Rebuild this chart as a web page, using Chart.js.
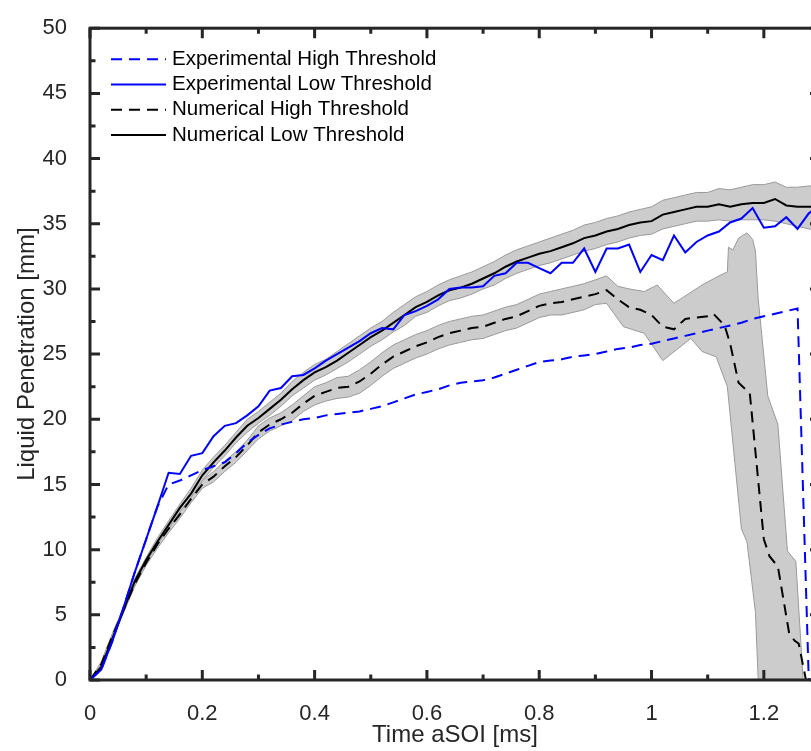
<!DOCTYPE html>
<html>
<head>
<meta charset="utf-8">
<script src="https://cdn.jsdelivr.net/npm/chart.js@4.4.1/dist/chart.umd.min.js"></script>
<style>
  html, body { margin: 0; padding: 0; background: #fff; overflow: hidden; }
  canvas { display: block; }
</style>
</head>
<body>
<canvas id="penetrationChart" width="840" height="751"></canvas>
<script>
// time grid (ms) shared by the experimental and numerical low threshold curves
const timeGrid = [0,0.02,0.04,0.06,0.08,0.10,0.12,0.14,0.16,0.18,0.20,0.22,0.24,0.26,0.28,0.30,0.32,0.34,0.36,0.38,
  0.40,0.42,0.44,0.46,0.48,0.50,0.52,0.54,0.56,0.58,0.60,0.62,0.64,0.66,0.68,0.70,0.72,0.74,0.76,0.78,
  0.80,0.82,0.84,0.86,0.88,0.90,0.92,0.94,0.96,0.98,1.00,1.02,1.04,1.06,1.08,1.10,1.12,1.14,1.16,1.18,
  1.20,1.22,1.24,1.26,1.28,1.30];

// experimental (mm)
const expHigh = [0,0.8,3.0,5.6,8.3,10.8,13.3,15.0,15.3,15.7,16.1,16.4,16.7,17.4,18.2,18.8,19.3,19.6,19.8,20.0,
  20.1,20.3,20.4,20.5,20.6,20.8,21.0,21.3,21.6,21.9,22.1,22.3,22.6,22.8,22.9,23.0,23.2,23.5,23.8,24.1,
  24.4,24.5,24.6,24.8,24.9,25.0,25.2,25.4,25.5,25.7,25.8,26.0,26.2,26.4,26.6,26.8,27.0,27.2,27.4,27.7,
  27.9,28.1,28.3,28.5,0];
const expLow = [0,0.8,3.0,5.6,8.3,10.8,13.3,15.9,15.8,17.2,17.4,18.7,19.5,19.7,20.3,21.0,22.2,22.4,23.3,23.4,
  23.9,24.5,25.0,25.5,26.0,26.6,27.0,26.9,28.0,28.3,28.7,29.2,30.0,30.1,30.1,30.2,31.0,31.2,32.0,32.0,
  31.6,31.2,32.0,32.0,33.1,31.3,33.1,33.1,33.4,31.3,32.6,32.2,34.1,32.8,33.6,34.1,34.4,35.1,35.4,36.2,
  34.7,34.8,35.5,34.6,35.8,36.4];

// numerical low threshold and its spread
const numLow = [0,1.0,3.2,5.4,7.6,9.2,10.6,11.9,13.2,14.3,15.7,16.7,17.6,18.6,19.5,20.1,20.8,21.5,22.3,23.0,
  23.6,24.0,24.5,25.1,25.7,26.3,26.8,27.4,28.0,28.6,29.0,29.5,29.9,30.1,30.4,30.8,31.2,31.7,32.1,32.4,
  32.7,32.9,33.2,33.5,33.9,34.1,34.4,34.6,34.9,35.1,35.2,35.7,35.9,36.1,36.3,36.3,36.5,36.3,36.5,36.6,
  36.6,36.9,36.4,36.3,36.3,36.3];
const numLowUp = [0,1.2,3.4,5.6,7.8,9.4,10.9,12.2,13.5,14.7,16.1,17.1,18.0,19.0,20.0,20.6,21.3,22.0,22.9,23.6,
  24.2,24.6,25.2,25.8,26.4,27.0,27.5,28.2,28.8,29.4,29.8,30.3,30.7,31.0,31.3,31.7,32.1,32.6,33.0,33.3,
  33.6,33.9,34.2,34.5,34.9,35.1,35.4,35.6,35.9,36.1,36.3,36.8,37.0,37.2,37.4,37.4,37.7,37.6,37.8,38.0,
  38.0,38.2,37.8,37.8,37.9,37.9];
const numLowDn = [0,0.8,3.0,5.2,7.4,9.0,10.4,11.6,12.9,14.0,15.3,16.3,17.2,18.2,19.0,19.7,20.3,21.0,21.8,22.4,
  23.0,23.4,23.9,24.4,25.0,25.6,26.1,26.7,27.2,27.9,28.2,28.7,29.1,29.3,29.6,30.0,30.3,30.8,31.2,31.5,
  31.8,32.0,32.3,32.6,32.9,33.1,33.4,33.6,33.9,34.1,34.2,34.6,34.8,35.0,35.2,35.2,35.3,35.2,35.3,35.3,
  35.3,35.2,35.0,34.8,34.6,34.5];

// numerical high threshold and its spread
const numHighTime = [0,0.02,0.04,0.06,0.08,0.10,0.12,0.14,0.16,0.18,0.20,0.22,0.24,0.26,0.28,0.30,0.32,0.34,0.36,0.38,
  0.40,0.42,0.44,0.46,0.48,0.50,0.52,0.54,0.56,0.58,0.60,0.62,0.64,0.66,0.68,0.70,0.72,0.74,0.76,0.78,
  0.80,0.82,0.84,0.86,0.88,0.90,0.92,0.94,0.96,0.98,1.00,1.02,1.04,1.06,1.08,1.10,
  1.11,1.13,1.14,1.155,1.175,1.20,1.21,1.225,1.245,1.255,1.262,1.275];
const numHigh = [0,1.2,3.4,5.4,7.4,9.0,10.4,11.6,12.7,13.9,15.0,15.6,16.4,17.1,18.0,19.0,19.6,20.0,20.5,21.2,
  21.8,22.1,22.4,22.5,22.9,23.5,24.2,24.8,25.2,25.6,25.9,26.3,26.6,26.8,27.0,27.1,27.4,27.7,27.9,28.3,
  28.7,28.9,29.0,29.2,29.4,29.6,29.9,29.2,28.6,28.4,28.0,27.1,26.9,27.7,27.8,27.9,
  28.1,27.2,25.8,22.8,22.0,10.8,9.5,8.7,3.6,3.0,2.8,0];
const numHighUpTime = [0,0.02,0.04,0.06,0.08,0.10,0.12,0.14,0.16,0.18,0.20,0.22,0.24,0.26,0.28,0.30,0.32,0.34,0.36,0.38,
  0.40,0.42,0.44,0.46,0.48,0.50,0.52,0.54,0.56,0.58,0.60,0.62,0.64,0.66,0.68,0.70,0.72,0.74,0.76,0.78,
  0.80,0.82,0.84,0.86,0.88,0.90,0.92,
  0.94,0.96,0.987,1.01,1.04,1.065,1.09,1.12,1.135,1.137,1.145,1.155,1.17,1.18,1.185,1.19,1.207,1.225,1.242,1.257,1.27];
const numHighUp = [0,1.4,3.6,5.6,7.6,9.3,10.7,11.9,13.0,14.2,15.3,16.0,16.8,17.5,18.4,19.5,20.1,20.5,21.1,21.8,
  22.5,22.8,23.2,23.3,23.8,24.4,25.1,25.7,26.1,26.5,26.8,27.2,27.5,27.7,27.9,28.0,28.3,28.6,28.8,29.2,
  29.6,29.8,30.0,30.2,30.4,30.7,31.0,
  30.2,30.0,29.8,30.3,28.9,29.6,30.3,31.0,31.3,33.2,33.0,33.9,34.3,33.8,32.9,29.2,21.8,19.6,9.9,9.1,0];
const numHighDnTime = [0,0.02,0.04,0.06,0.08,0.10,0.12,0.14,0.16,0.18,0.20,0.22,0.24,0.26,0.28,0.30,0.32,0.34,0.36,0.38,
  0.40,0.42,0.44,0.46,0.48,0.50,0.52,0.54,0.56,0.58,0.60,0.62,0.64,0.66,0.68,0.70,0.72,0.74,0.76,0.78,
  0.80,0.82,0.84,0.86,0.88,0.90,0.92,
  0.95,0.987,1.02,1.07,1.09,1.115,1.135,1.16,1.17,1.185,1.19,1.27];
const numHighDn = [0,1.0,3.2,5.2,7.2,8.8,10.1,11.3,12.4,13.6,14.7,15.2,16.0,16.7,17.6,18.5,19.1,19.5,19.9,20.6,
  21.1,21.4,21.6,21.7,22.0,22.6,23.3,23.9,24.3,24.7,25.0,25.4,25.7,25.9,26.1,26.2,26.5,26.8,27.0,27.4,
  27.8,28.0,28.0,28.2,28.4,28.8,28.9,
  27.1,26.6,24.5,26.2,25.2,24.8,22.5,11.6,10.6,5.2,0,0];

// axis ticks
const xMajor = [0,0.2,0.4,0.6,0.8,1.0,1.2];
const xMinor = [0.1,0.3,0.5,0.7,0.9,1.1];
const yMajor = [0,5,10,15,20,25,30,35,40,45,50];
const yMinor = [2.5,7.5,12.5,17.5,22.5,27.5,32.5,37.5,42.5,47.5];

const legendLabels = ['Experimental High Threshold', 'Experimental Low Threshold',
  'Numerical High Threshold', 'Numerical Low Threshold'];

const axisColor = '#262626';
const bandFill = '#cccccc';
const bandEdge = '#9a9a9a';
const dash = [11, 7];
Chart.defaults.font.family = "'Liberation Sans', Arial, sans-serif";

const pts = (t, v) => v.map((y, i) => ({x: t[i], y: y}));

function curve(label, t, v, color, borderDash) {
    return {
        label: label, data: pts(t, v), borderColor: color, borderWidth: 2,
        borderDash: borderDash || [], pointRadius: 0, tension: 0, fill: false
    };
}
function edge(t, v, fill) {
    return {
        label: '', data: pts(t, v), borderColor: bandEdge, borderWidth: 1,
        backgroundColor: bandFill, pointRadius: 0, tension: 0, fill: fill
    };
}

// inward ticks and the full box, MATLAB style
const framePlugin = {
    id: 'frame',
    afterDatasetsDraw(chart) {
        const {ctx, chartArea: a, scales: {x, y}} = chart;
        ctx.save();
        ctx.strokeStyle = axisColor;
        ctx.lineWidth = 3;
        ctx.beginPath();
        const xt = (vals, len) => vals.forEach(v => {
            const px = x.getPixelForValue(v);
            ctx.moveTo(px, a.bottom); ctx.lineTo(px, a.bottom - len);
            ctx.moveTo(px, a.top); ctx.lineTo(px, a.top + len);
        });
        const yt = (vals, len) => vals.forEach(v => {
            const py = y.getPixelForValue(v);
            ctx.moveTo(a.left, py); ctx.lineTo(a.left + len, py);
            ctx.moveTo(a.right, py); ctx.lineTo(a.right - len, py);
        });
        xt(xMajor, 10); xt(xMinor, 5.5);
        yt(yMajor, 10); yt(yMinor, 5.5);
        ctx.stroke();
        ctx.strokeRect(a.left, a.top, a.right - a.left, a.bottom - a.top);
        ctx.restore();
    }
};

// legend without box, top-left inside the axes
const legendPlugin = {
    id: 'boxlessLegend',
    afterDraw(chart) {
        const {ctx, chartArea: a} = chart;
        ctx.save();
        ctx.font = "20.5px 'Liberation Sans', Arial, sans-serif";
        ctx.textBaseline = 'middle';
        ctx.textAlign = 'left';
        legendLabels.forEach((label, i) => {
            const ds = chart.data.datasets[i];
            const yy = a.top + 31 + i * 25.3;
            ctx.strokeStyle = ds.borderColor;
            ctx.lineWidth = ds.borderWidth;
            ctx.setLineDash(ds.borderDash);
            ctx.beginPath();
            ctx.moveTo(a.left + 21, yy);
            ctx.lineTo(a.left + 76, yy);
            ctx.stroke();
            ctx.fillStyle = '#000';
            ctx.fillText(label, a.left + 82, yy);
        });
        ctx.restore();
    }
};

const ctx = document.getElementById('penetrationChart').getContext('2d');
new Chart(ctx, {
    type: 'line',
    data: {
        datasets: [
            curve(legendLabels[0], timeGrid, expHigh, '#0000ff', dash),
            curve(legendLabels[1], timeGrid, expLow, '#0000ff'),
            curve(legendLabels[2], numHighTime, numHigh, '#000000', dash),
            curve(legendLabels[3], timeGrid, numLow, '#000000'),
            edge(timeGrid, numLowUp, false),
            edge(timeGrid, numLowDn, 4),
            edge(numHighUpTime, numHighUp, false),
            edge(numHighDnTime, numHighDn, 6)
        ]
    },
    options: {
        responsive: false,
        devicePixelRatio: 1,
        animation: false,
        events: [],
        layout: { padding: { left: 0, top: 21, right: 20, bottom: 0 } },
        scales: {
            x: {
                type: 'linear', min: 0, max: 1.3,
                afterFit: s => { s.height = 71; },
                afterBuildTicks: s => { s.ticks = xMajor.map(v => ({value: v})); },
                grid: { display: false },
                border: { display: false },
                ticks: {
                    padding: 13, color: axisColor, font: { size: 22 },
                    maxRotation: 0, autoSkip: false,
                    callback: v => String(Math.round(v * 10) / 10)
                },
                title: {
                    display: true, text: 'Time aSOI [ms]', color: axisColor,
                    font: { size: 24 }, padding: { top: 0, bottom: 1 }
                }
            },
            y: {
                min: 0, max: 50,
                afterFit: s => { s.width = 90; },
                afterBuildTicks: s => { s.ticks = yMajor.map(v => ({value: v})); },
                grid: { display: false },
                border: { display: false },
                ticks: { padding: 15, color: axisColor, font: { size: 22 }, autoSkip: false },
                title: {
                    display: true, text: 'Liquid Penetration [mm]', color: axisColor,
                    font: { size: 24 }, padding: { top: 13, bottom: 0 }
                }
            }
        },
        plugins: {
            legend: { display: false },
            tooltip: { enabled: false }
        }
    },
    plugins: [framePlugin, legendPlugin]
});
</script>
</body>
</html>
